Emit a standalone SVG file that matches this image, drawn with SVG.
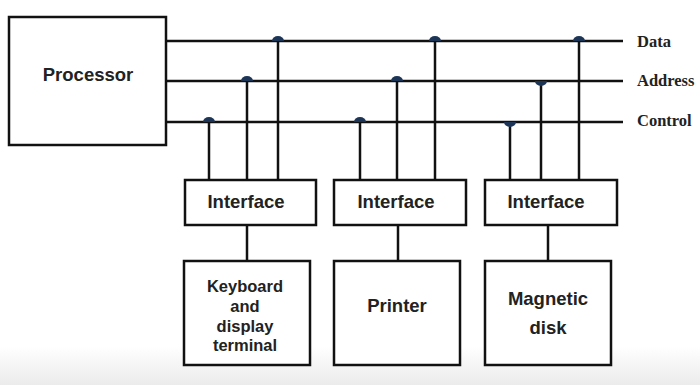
<svg xmlns="http://www.w3.org/2000/svg" width="700" height="385" viewBox="0 0 700 385">
<defs>
<linearGradient id="bg" x1="0" y1="0" x2="0" y2="1">
<stop offset="0.9" stop-color="#ffffff"/>
<stop offset="1" stop-color="#ebebeb"/>
</linearGradient>
</defs>
<style>
.box{fill:#fff;stroke:#111;stroke-width:2.5}
.ln{stroke:#111;stroke-width:2.5;fill:none}
.t{font-family:"Liberation Sans",Arial,sans-serif;font-weight:bold;fill:#222;text-anchor:middle;dominant-baseline:central}
.bl{font-family:"Liberation Serif","Times New Roman",serif;font-weight:bold;font-size:16.5px;fill:#222;dominant-baseline:central}
.dot{fill:#1c3557}
</style>
<rect width="700" height="385" fill="url(#bg)"/>
<g id="connectors">
<line class="ln" x1="166" y1="41" x2="623" y2="41"/>
<line class="ln" x1="166" y1="81" x2="623" y2="81"/>
<line class="ln" x1="166" y1="122" x2="623" y2="122"/>
<line class="ln" x1="209" y1="122" x2="209" y2="180"/>
<line class="ln" x1="247" y1="81" x2="247" y2="180"/>
<line class="ln" x1="278" y1="41" x2="278" y2="180"/>
<line class="ln" x1="360" y1="122" x2="360" y2="180"/>
<line class="ln" x1="397" y1="81" x2="397" y2="180"/>
<line class="ln" x1="435" y1="41" x2="435" y2="180"/>
<line class="ln" x1="510" y1="122" x2="510" y2="180"/>
<line class="ln" x1="541" y1="81" x2="541" y2="180"/>
<line class="ln" x1="579" y1="41" x2="579" y2="180"/>
<line class="ln" x1="247" y1="225" x2="247" y2="261"/>
<line class="ln" x1="398" y1="225" x2="398" y2="261"/>
<line class="ln" x1="548" y1="225" x2="548" y2="261"/>
<path class="dot" d="M203 122 A6 5 0 0 1 215 122 Z"/>
<path class="dot" d="M241 81 A6 5 0 0 1 253 81 Z"/>
<path class="dot" d="M272 41 A6 5 0 0 1 284 41 Z"/>
<path class="dot" d="M354 122 A6 5 0 0 1 366 122 Z"/>
<path class="dot" d="M391 81 A6 5 0 0 1 403 81 Z"/>
<path class="dot" d="M429 41 A6 5 0 0 1 441 41 Z"/>
<path class="dot" d="M504 122 A6 5 0 0 0 516 122 Z"/>
<path class="dot" d="M535 81 A6 5 0 0 0 547 81 Z"/>
<path class="dot" d="M573 41 A6 5 0 0 1 585 41 Z"/>
</g>
<g id="processor">
<rect class="box" x="9" y="17" width="157" height="128"/>
<text class="t" x="88" y="74" font-size="18.5">Processor</text>
</g>
<g id="interface1">
<rect class="box" x="185" y="180" width="131" height="45"/>
<text class="t" x="246" y="201" font-size="18.5">Interface</text>
</g>
<g id="interface2">
<rect class="box" x="334" y="180" width="132" height="45"/>
<text class="t" x="396" y="201" font-size="18.5">Interface</text>
</g>
<g id="interface3">
<rect class="box" x="485" y="180" width="132" height="45"/>
<text class="t" x="546" y="201" font-size="18.5">Interface</text>
</g>
<g id="keyboard">
<rect class="box" x="184" y="261" width="126" height="104"/>
<text class="t" font-size="16.5"><tspan x="245" y="286">Keyboard</tspan><tspan x="245" y="306">and</tspan><tspan x="245" y="326">display</tspan><tspan x="245" y="345">terminal</tspan></text>
</g>
<g id="printer">
<rect class="box" x="334" y="261" width="126" height="104"/>
<text class="t" x="397" y="305" font-size="18.5">Printer</text>
</g>
<g id="disk">
<rect class="box" x="485" y="261" width="126" height="104"/>
<text class="t" font-size="18.5"><tspan x="548" y="298">Magnetic</tspan><tspan x="548" y="327">disk</tspan></text>
</g>
<g id="labels">
<text class="bl" x="637" y="41">Data</text>
<text class="bl" x="637" y="80">Address</text>
<text class="bl" x="637" y="120">Control</text>
</g>
</svg>
